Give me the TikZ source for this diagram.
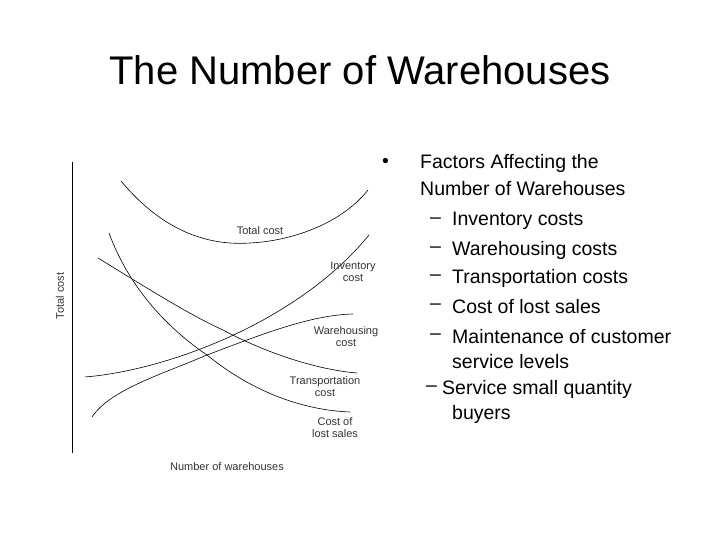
\documentclass[tikz,border=0pt]{standalone}
\usepackage{fontspec}
\setmainfont{Liberation Sans}
\begin{document}
\begin{tikzpicture}[x=1pt,y=-1pt,
  curve/.style={line width=0.6pt},
  lbl/.style={font=\fontsize{11}{12}\selectfont,align=center,text=black!80},
  bt/.style={font=\fontsize{19.5}{22}\selectfont,anchor=west,inner sep=0}]
\useasboundingbox (0,0) rectangle (720,540);
\node (title) at (360,70) {\fontsize{40}{44}\selectfont The Number of Warehouses};
% axis
\coordinate (ytop) at (72,162); \coordinate (ybot) at (72,453);
\draw[line width=0.8pt] (ytop) -- (ybot);
\node[lbl,rotate=90] (ylab) at (60,296) {Total cost};
\node[lbl] (xlab) at (227,467) {Number of warehouses};
% curves
\draw[curve] (121,181) .. controls (170,240) and (220,245) .. (250,243) .. controls (290,241) and (340,225) .. (368,190);
\draw[curve] (85,377) .. controls (170,370) and (300,320) .. (369,235);
\draw[curve] (92,417) .. controls (110,390) and (160,375) .. (207,355) .. controls (260,335) and (310,315) .. (353,314);
\draw[curve] (98,258) .. controls (150,290) and (190,315) .. (223,330) .. controls (270,355) and (320,370) .. (357,373);
\draw[curve] (109,233) .. controls (130,290) and (170,330) .. (207,355) .. controls (250,390) and (300,410) .. (350,412);
\node[lbl] (tc) at (260,231) {Total cost};
\node[lbl] (ic) at (353,272) {Inventory\\cost};
\node[lbl] (wc) at (346,337) {Warehousing\\cost};
\node[lbl] (trc) at (325,387) {Transportation\\cost};
\node[lbl] (cls) at (335,428) {Cost of\\lost sales};
% bullets
\node[bt] (b0) at (382,163) {•};
\node[bt] (b1) at (420,163) {Factors Affecting the};
\node[bt] (b2) at (420,189) {Number of Warehouses};
\node[bt] (d1) at (430,221) {–}; \node[bt] (t1) at (452,221) {Inventory costs};
\node[bt] (d2) at (430,250) {–}; \node[bt] (t2) at (452,250) {Warehousing costs};
\node[bt] (d3) at (430,278) {–}; \node[bt] (t3) at (452,278) {Transportation costs};
\node[bt] (d4) at (430,307) {–}; \node[bt] (t4) at (452,307) {Cost of lost sales};
\node[bt] (d5) at (430,337) {–}; \node[bt] (t5) at (452,337) {Maintenance of customer};
\node[bt] (t5b) at (452,362) {service levels};
\node[bt] (d6) at (426,389) {–}; \node[bt] (t6) at (442,389) {Service small quantity};
\node[bt] (t6b) at (452,414) {buyers};
\end{tikzpicture}
\end{document}
